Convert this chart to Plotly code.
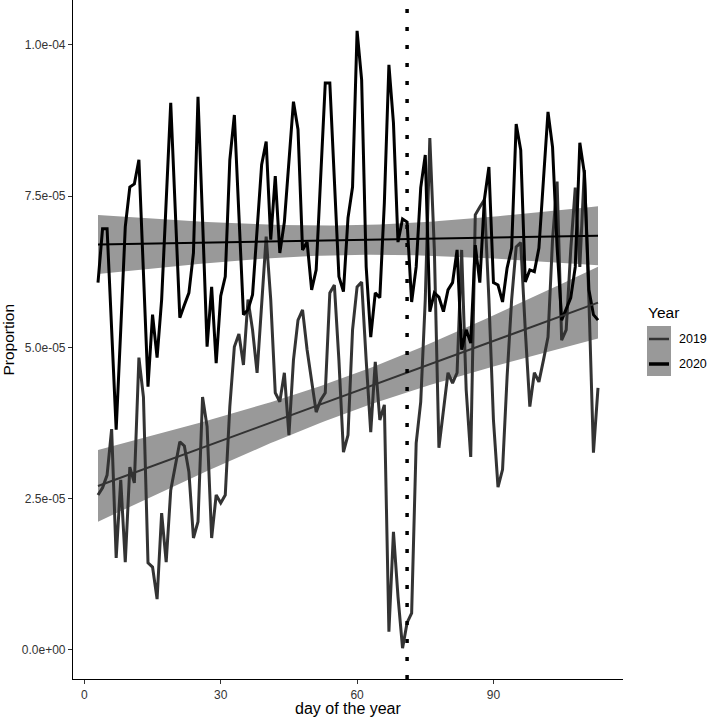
import numpy as np
import plotly.graph_objects as go

# day of the year, one value per day
days = list(range(3, 114))

# proportion, in units of 1e-6
prop_2019_e6 = [
    25.6, 26.8, 28.9, 36.5, 15.2, 28.1, 14.5, 30.2, 27.6, 48.3,
    41.8, 14.4, 13.7, 8.4, 22.6, 14.5, 26.4, 30.6, 34.4, 33.7,
    29.4, 18.5, 21.2, 41.8, 36.9, 18.5, 25.6, 24.3, 25.6, 40.2,
    50.1, 52.2, 47.1, 57.9, 52.9, 45.8, 57.9, 68.3, 57.9, 42.5,
    41.0, 45.8, 35.5, 47.9, 54.5, 56.2, 49.6, 44.3, 39.3, 41.3,
    42.5, 59.0, 60.3, 47.9, 32.7, 35.5, 52.9, 60.0, 60.8, 47.9,
    36.0, 47.6, 38.0, 40.5, 3.0, 19.5, 8.8, 0.3, 4.5, 6.1,
    34.2, 41.0, 57.9, 84.6, 66.1, 33.4, 39.7, 45.8, 44.1, 45.8,
    66.1, 43.0, 31.9, 71.9, 73.2, 74.4, 57.9, 38.0, 26.9, 29.8,
    45.1, 57.9, 66.6, 67.3, 52.9, 40.2, 45.8, 44.3, 47.9, 51.7,
    67.8, 77.4, 51.2, 52.9, 66.1, 76.4, 63.3, 79.3, 57.9, 32.6,
    43.3,
]
prop_2020_e6 = [
    60.7, 69.6, 69.6, 52.9, 36.4, 52.9, 69.9, 76.5, 77.0, 81.0,
    62.8, 43.5, 55.4, 48.3, 57.9, 74.4, 90.4, 72.7, 54.9, 57.0,
    59.0, 65.6, 91.4, 71.1, 50.1, 60.0, 47.4, 58.5, 61.7, 81.0,
    88.4, 71.9, 55.4, 56.2, 58.7, 69.4, 80.2, 84.0, 67.8, 78.3,
    65.6, 70.7, 81.0, 90.6, 86.0, 66.1, 67.4, 59.5, 62.8, 77.7,
    93.7, 93.7, 77.7, 61.7, 59.2, 71.4, 76.5, 102.3, 94.2, 63.3,
    51.7, 59.0, 58.2, 73.9, 96.7, 87.1, 67.4, 71.2, 70.7, 57.5,
    63.3, 76.4, 81.8, 55.9, 59.0, 58.3, 55.9, 59.5, 60.7, 66.1,
    49.6, 52.9, 50.7, 66.9, 60.7, 74.4, 79.8, 60.7, 60.3, 57.5,
    63.1, 66.4, 86.9, 82.6, 60.8, 62.8, 62.5, 66.4, 77.7, 88.9,
    83.1, 66.6, 54.5, 56.2, 58.2, 63.3, 83.8, 78.8, 59.5, 55.4,
    54.5,
]

years = ["2019", "2020"]
EVENT_DAY = 71

y_tickvals = [0, 2.5e-5, 5e-5, 7.5e-5, 1e-4]
y_ticktext = ["0.0e+00", "2.5e-05", "5.0e-05", "7.5e-05", "1.0e-04"]
x_tickvals = [0, 30, 60, 90]

line_colors = {"2019": "#333333", "2020": "#000000"}
RIBBON = "#999999"
FONT = "Liberation Sans, Arial, sans-serif"

W, H = 709, 718
M_L, M_R, M_T, M_B = 73, 86, 0, 39


def lm_band(x, y, t=1.982):
    """Linear fit with 95% confidence band, like geom_smooth(method='lm')."""
    x = np.asarray(x, float)
    y = np.asarray(y, float)
    n = len(x)
    slope, icpt = np.polyfit(x, y, 1)
    fit = icpt + slope * x
    resid = y - fit
    s = np.sqrt(resid @ resid / (n - 2))
    dx = x - x.mean()
    se = s * np.sqrt(1 / n + dx**2 / (dx @ dx))
    return fit, fit - t * se, fit + t * se


def px_x(p):
    return (p - M_L) / (W - M_L - M_R)


def px_y(p):
    return (H - M_B - p) / (H - M_T - M_B)


series = {
    "2019": np.array(prop_2019_e6) * 1e-6,
    "2020": np.array(prop_2020_e6) * 1e-6,
}

fig = go.Figure()

bands = {yr: lm_band(days, series[yr]) for yr in years}

for yr in years:
    fit, lo, hi = bands[yr]
    fig.add_trace(
        go.Scatter(
            x=days + days[::-1],
            y=list(hi) + list(lo[::-1]),
            fill="toself",
            fillcolor=RIBBON,
            line={"width": 0},
            mode="lines",
            hoverinfo="skip",
            showlegend=False,
        )
    )

for yr in years:
    fig.add_trace(
        go.Scatter(
            x=days,
            y=series[yr],
            mode="lines",
            name=yr,
            line={"width": 3, "color": line_colors[yr]},
            showlegend=False,
        )
    )

for yr in years:
    fit, lo, hi = bands[yr]
    fig.add_trace(
        go.Scatter(
            x=days,
            y=fit,
            mode="lines",
            line={"width": 2, "color": line_colors[yr]},
            showlegend=False,
        )
    )

fig.add_vline(
    x=EVENT_DAY,
    line={"color": "black", "width": 3.5, "dash": "4px,14px"},
)

# legend drawn by hand: grey key boxes with a line in each
fig.add_shape(
    type="rect", xref="paper", yref="paper",
    x0=px_x(647), x1=px_x(671), y0=px_y(376), y1=px_y(326),
    fillcolor=RIBBON, line={"width": 0}, layer="above",
)
for i, yr in enumerate(years):
    yc = 339 + 25 * i
    fig.add_shape(
        type="line", xref="paper", yref="paper",
        x0=px_x(649), x1=px_x(669), y0=px_y(yc), y1=px_y(yc),
        line={"color": line_colors[yr], "width": 2.5 if yr == "2019" else 3.5},
        layer="above",
    )
    fig.add_annotation(
        x=px_x(678), y=px_y(yc), xref="paper", yref="paper",
        text=yr, showarrow=False, xanchor="left", yanchor="middle",
        borderpad=0,
        font={"size": 12.5, "color": "black", "family": FONT},
    )
fig.add_annotation(
    x=px_x(646), y=px_y(312), xref="paper", yref="paper",
    text="Year", showarrow=False, xanchor="left", yanchor="middle",
    font={"size": 15.5, "color": "black", "family": FONT},
)

# axis titles
fig.add_annotation(
    x=0.5, y=px_y(708), xref="paper", yref="paper",
    text="day of the year", showarrow=False, yanchor="middle",
    font={"size": 16, "color": "black", "family": FONT},
)
fig.add_annotation(
    x=px_x(8), y=0.5, xref="paper", yref="paper",
    text="Proportion", showarrow=False, textangle=-90, xanchor="center",
    font={"size": 15.5, "color": "black", "family": FONT},
)

fig.update_layout(
    width=W,
    height=H,
    margin={"l": M_L, "r": M_R, "t": M_T, "b": M_B},
    plot_bgcolor="white",
    paper_bgcolor="white",
    showlegend=False,
    font={"family": FONT, "color": "black"},
)
fig.update_xaxes(
    range=[-2.5, 118.5],
    tickvals=x_tickvals,
    showgrid=False,
    zeroline=False,
    showline=True,
    linecolor="black",
    linewidth=1.2,
    ticks="outside",
    ticklen=4,
    tickcolor="#333333",
    tickfont={"size": 12, "color": "#333333"},
)
fig.update_yaxes(
    range=[-4.8e-6, 107.4e-6],
    tickvals=y_tickvals,
    ticktext=y_ticktext,
    showgrid=False,
    zeroline=False,
    showline=True,
    linecolor="black",
    linewidth=1.2,
    ticks="outside",
    ticklen=4,
    tickcolor="#333333",
    tickfont={"size": 12, "color": "#333333"},
)

# the page's default body margin would push the figure off the window
fig.write_html(
    "out.html",
    config={"displayModeBar": False},
    post_script="document.body.style.margin='0';document.body.style.overflow='hidden';",
)
